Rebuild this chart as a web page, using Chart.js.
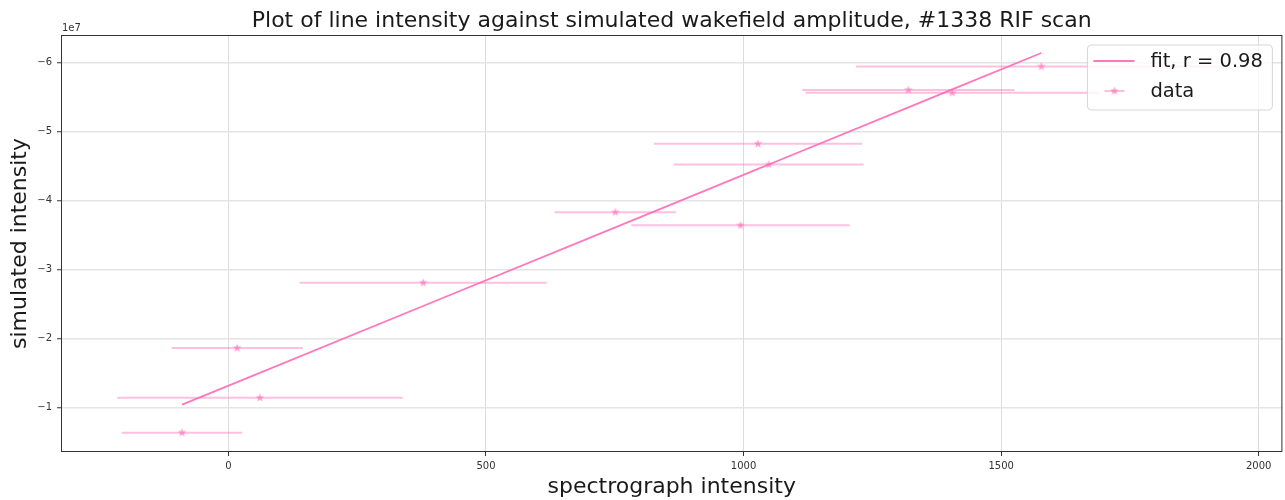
<!DOCTYPE html>
<html>
<head>
<meta charset="utf-8">
<title>RIF scan line intensity</title>
<script src="https://cdn.jsdelivr.net/npm/chart.js@4/dist/chart.umd.min.js"></script>
<style>
  body { margin: 0; background: #fff; overflow: hidden; }
  #wrap { width: 1288px; height: 500px; }
</style>
</head>
<body>
<div id="wrap"><canvas id="scanChart"></canvas></div>
<script>
// spectrograph intensity (x), its error, and simulated intensity (y)
var specX = [-90, 61, 17, 378, 751, 994, 1028, 1049, 1320, 1405, 1578];
var specErr = [117, 277, 127, 240, 118, 212, 202, 184, 206, 285, 360];
var simY = [-0.64e7, -1.145e7, -1.865e7, -2.81e7, -3.83e7, -3.64e7, -4.82e7, -4.52e7, -5.60e7, -5.56e7, -5.94e7];
// fitted line evaluated at the same x values
var fitY = [-1.045e7, -1.506e7, -1.371e7, -2.473e7, -3.611e7, -4.353e7, -4.457e7, -4.521e7, -5.348e7, -5.607e7, -6.135e7];
var xTicks = [0, 500, 1000, 1500, 2000];
var yTicks = [-6e7, -5e7, -4e7, -3e7, -2e7, -1e7];
var chartTitle = 'Plot of line intensity against simulated wakefield amplitude, #1338 RIF scan';

var barColor = 'rgba(255,105,180,0.42)';
var starColor = 'rgba(255,105,180,0.62)';
var font = 'DejaVu Sans';

// filled five point star marker
function makeStar(r, fill) {
  var c = document.createElement('canvas');
  c.width = c.height = Math.ceil(r * 2 + 2);
  var g = c.getContext('2d');
  var cx = c.width / 2, cy = c.height / 2;
  g.beginPath();
  for (var i = 0; i < 10; i++) {
    var rad = i % 2 === 0 ? r : r * 0.42;
    var a = -Math.PI / 2 + i * Math.PI / 5;
    g.lineTo(cx + rad * Math.cos(a), cy + rad * Math.sin(a));
  }
  g.closePath();
  g.fillStyle = fill;
  g.fill();
  return c;
}
var star = makeStar(4.6, starColor);

var datasets = [];
datasets.push({
  type: 'line',
  label: 'fit, r = 0.98',
  data: specX.map(function (x, i) { return { x: x, y: fitY[i] }; }),
  borderColor: 'rgba(255,105,180,0.9)',
  borderWidth: 1.8,
  pointRadius: 0,
  fill: false,
  order: 0
});
specX.forEach(function (x, i) {
  datasets.push({
    type: 'line',
    label: 'xerr',
    data: [{ x: x - specErr[i], y: simY[i] }, { x: x + specErr[i], y: simY[i] }],
    borderColor: barColor,
    borderWidth: 2,
    pointRadius: 0,
    fill: false,
    order: 2
  });
});
datasets.push({
  type: 'scatter',
  label: 'data',
  data: specX.map(function (x, i) { return { x: x, y: simY[i] }; }),
  pointStyle: star,
  pointRadius: 4.6,
  showLine: false,
  order: 1
});

// title over the plot area, axes frame, offset label and the boxed legend
var extras = {
  id: 'extras',
  afterDraw: function (chart) {
    var ctx = chart.ctx, a = chart.chartArea;
    ctx.save();
    ctx.fillStyle = '#1a1a1a';
    ctx.font = '22px "' + font + '"';
    ctx.textAlign = 'center';
    ctx.textBaseline = 'middle';
    ctx.fillText(chartTitle, (a.left + a.right) / 2, 21);

    ctx.strokeStyle = '#333';
    ctx.lineWidth = 1;
    ctx.strokeRect(a.left + 0.5, a.top + 0.5, a.right - a.left - 1, a.bottom - a.top - 1);

    ctx.fillStyle = '#333';
    ctx.font = '10px "' + font + '"';
    ctx.textBaseline = 'alphabetic';
    ctx.textAlign = 'left';
    ctx.fillText('1e7', a.left + 1, a.top - 4);

    var ds = chart.data.datasets;
    var fitDs = ds[0], dataDs = ds[ds.length - 1];
    var bx = a.right - 195, by = a.top + 10, bw = 185, bh = 65;
    ctx.beginPath();
    ctx.roundRect(bx, by, bw, bh, 4);
    ctx.fillStyle = 'rgba(255,255,255,0.8)';
    ctx.fill();
    ctx.strokeStyle = 'rgba(204,204,204,0.8)';
    ctx.stroke();

    var row1 = by + 16, row2 = by + 46;
    ctx.strokeStyle = fitDs.borderColor;
    ctx.lineWidth = fitDs.borderWidth;
    ctx.beginPath();
    ctx.moveTo(bx + 6, row1);
    ctx.lineTo(bx + 47, row1);
    ctx.stroke();

    ctx.strokeStyle = barColor;
    ctx.lineWidth = 2;
    ctx.beginPath();
    ctx.moveTo(bx + 17, row2);
    ctx.lineTo(bx + 37, row2);
    ctx.stroke();
    ctx.drawImage(star, bx + 27 - star.width / 2, row2 - star.height / 2);

    ctx.fillStyle = '#1a1a1a';
    ctx.font = '19.5px "' + font + '"';
    ctx.textBaseline = 'middle';
    ctx.fillText(fitDs.label, bx + 63, row1 + 1);
    ctx.fillText(dataDs.label, bx + 63, row2 + 1);
    ctx.restore();
  }
};

new Chart(document.getElementById('scanChart'), {
  data: { datasets: datasets },
  options: {
    responsive: true,
    maintainAspectRatio: false,
    animation: false,
    layout: { padding: { left: 0, right: 2, top: 35, bottom: 0 } },
    plugins: {
      legend: { display: false },
      tooltip: { enabled: false },
      title: { display: false }
    },
    scales: {
      x: {
        type: 'linear',
        min: -325,
        max: 2046,
        afterFit: function (s) { s.height = 48; },
        afterBuildTicks: function (s) { s.ticks = xTicks.map(function (v) { return { value: v }; }); },
        ticks: {
          color: '#333',
          font: { family: font, size: 10 },
          padding: 4,
          maxRotation: 0,
          callback: function (v) { return String(v); }
        },
        grid: { color: '#dcdcdc', lineWidth: 1, tickLength: 4, tickColor: '#333', tickWidth: 1 },
        border: { display: false },
        title: {
          display: true,
          text: 'spectrograph intensity',
          color: '#1a1a1a',
          font: { family: font, size: 22 },
          padding: { top: 0, bottom: 0 }
        }
      },
      y: {
        type: 'linear',
        reverse: true,
        min: -6.395e7,
        max: -0.36e7,
        afterFit: function (s) { s.width = 61; },
        afterBuildTicks: function (s) { s.ticks = yTicks.map(function (v) { return { value: v }; }); },
        ticks: {
          color: '#333',
          font: { family: font, size: 10 },
          padding: 5,
          callback: function (v) {
            var n = v / 1e7;
            return (n < 0 ? '\u2212' : '') + Math.abs(Math.round(n));
          }
        },
        grid: { color: '#e4e4e4', lineWidth: 1.5, tickLength: 4, tickColor: '#333', tickWidth: 1 },
        border: { display: false },
        title: {
          display: true,
          text: 'simulated intensity',
          color: '#1a1a1a',
          font: { family: font, size: 22 },
          padding: { top: 7, bottom: 0 }
        }
      }
    }
  },
  plugins: [extras]
});
</script>
</body>
</html>
